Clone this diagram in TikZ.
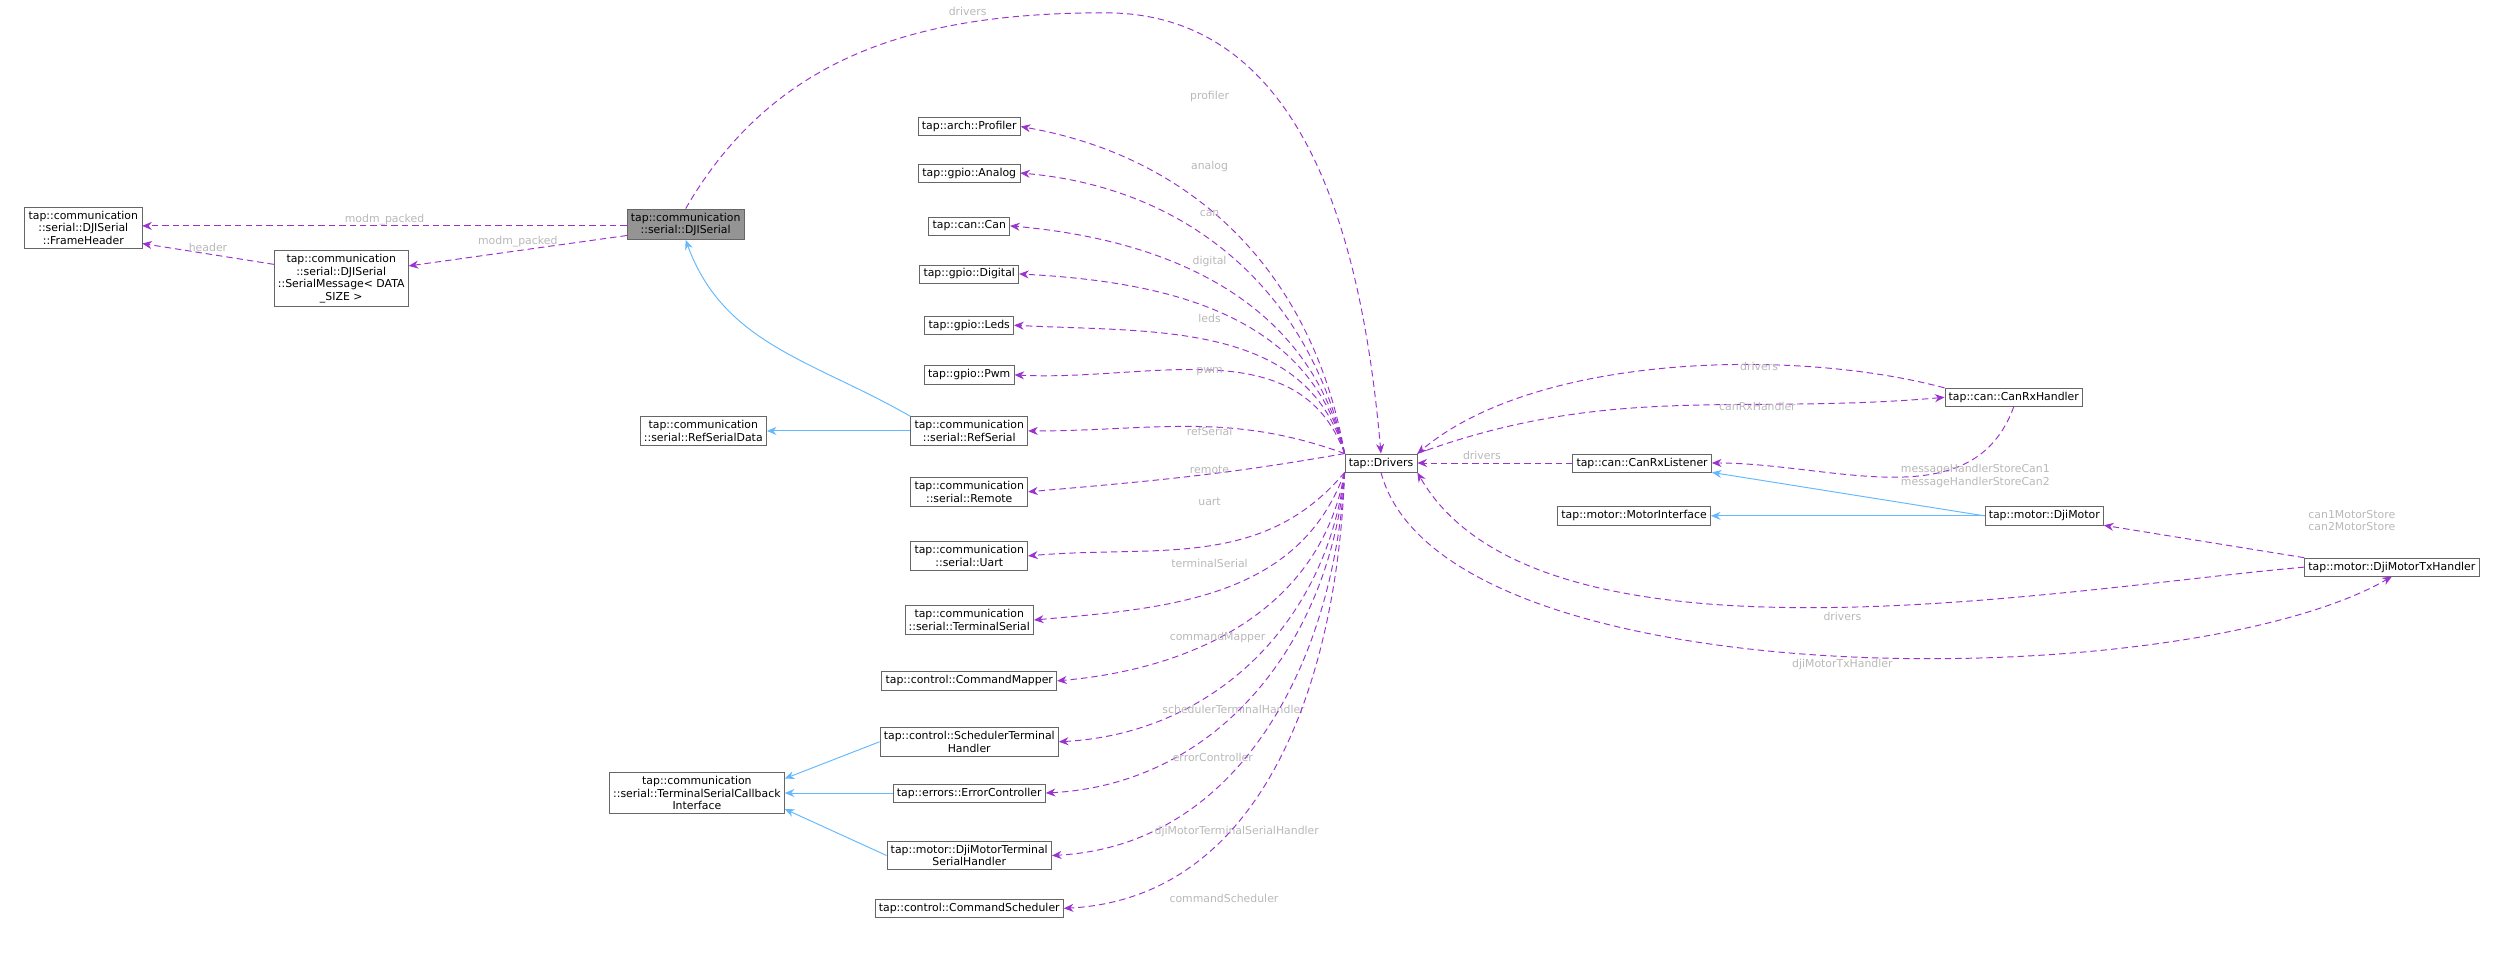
\documentclass[tikz,border=0pt]{standalone}
\usepackage{fontspec}
\setmainfont{DejaVu Sans}
\usetikzlibrary{arrows.meta}
\definecolor{dep}{HTML}{9A32CD}
\definecolor{inh}{HTML}{63B8FF}
\definecolor{lblgray}{HTML}{B8B8B8}
\tikzset{
  cls/.style={draw=black!60, fill=white, font=\fontsize{6.8}{7.8}\selectfont, align=center, inner sep=2.4pt},
  cur/.style={cls, fill=black!42},
  use/.style={dep, semithick, dash pattern=on 4pt off 2.5pt, -{Stealth[length=6pt,width=5pt]}},
  isa/.style={inh, semithick, -{Stealth[length=6pt,width=5pt]}},
  lbl/.style={text=lblgray, font=\fontsize{6.8}{7.8}\selectfont, align=center, inner sep=0pt}
}
\begin{document}
\begin{tikzpicture}[x=1pt,y=-1pt]
\useasboundingbox (0,0) rectangle (1568,597);

% left part
\node[cls] (hdr) at (52,142) {tap::communication\\::serial::DJISerial\\::FrameHeader};
\node[cur] (dji) at (428,140) {tap::communication\\::serial::DJISerial};
\node[cls] (msg) at (213,174) {tap::communication\\::serial::DJISerial\\::SerialMessage< DATA\\\_SIZE >};
\node[cls] (rsd) at (439,269) {tap::communication\\::serial::RefSerialData};
\node[cls] (tsci) at (435,495) {tap::communication\\::serial::TerminalSerialCallback\\Interface};

% members of the drivers
\node[cls] (prof) at (605,79) {tap::arch::Profiler};
\node[cls] (ana) at (605,108) {tap::gpio::Analog};
\node[cls] (can) at (605,141) {tap::can::Can};
\node[cls] (dig) at (605,171) {tap::gpio::Digital};
\node[cls] (leds) at (605,203) {tap::gpio::Leds};
\node[cls] (pwm) at (605,234) {tap::gpio::Pwm};
\node[cls] (ref) at (605,269) {tap::communication\\::serial::RefSerial};
\node[cls] (rem) at (605,307) {tap::communication\\::serial::Remote};
\node[cls] (uart) at (605,347) {tap::communication\\::serial::Uart};
\node[cls] (term) at (605,387) {tap::communication\\::serial::TerminalSerial};
\node[cls] (cmap) at (605,425) {tap::control::CommandMapper};
\node[cls] (sth) at (605,463) {tap::control::SchedulerTerminal\\Handler};
\node[cls] (err) at (605,495) {tap::errors::ErrorController};
\node[cls] (dmts) at (605,534) {tap::motor::DjiMotorTerminal\\SerialHandler};
\node[cls] (csch) at (605,567) {tap::control::CommandScheduler};

% right part
\node[cls] (drv) at (862,289) {tap::Drivers};
\node[cls] (crl) at (1025,289) {tap::can::CanRxListener};
\node[cls] (mint) at (1020,322) {tap::motor::MotorInterface};
\node[cls] (crh) at (1257,248) {tap::can::CanRxHandler};
\node[cls] (dmot) at (1276,322) {tap::motor::DjiMotor};
\node[cls] (dtx) at (1493,354) {tap::motor::DjiMotorTxHandler};

% inheritance
\draw[isa] (ref.west) -- (rsd.east);
\draw[isa] (ref.north west) to[out=150,in=-70] (dji.south);
\draw[isa] (sth.west) -- (tsci.east |- 0,486);
\draw[isa] (err.west) -- (tsci.east |- 0,495);
\draw[isa] (dmts.west) -- (tsci.east |- 0,505);
\draw[isa] (dmot.west) -- (crl.south east);
\draw[isa] (dmot.west) -- (mint.east);

% usage, left part
\draw[use] (dji.west |- 0,141) -- (hdr.east |- 0,141) node[lbl, pos=0.5, above] {modm\_packed};
\draw[use] (dji.west |- 0,147) -- (msg.east |- 0,166) node[lbl, pos=0.5, above=2pt] {modm\_packed};
\draw[use] (msg.west |- 0,165) -- (hdr.east |- 0,152) node[lbl, pos=0.5, above=1pt] {header};
\coordinate (top) at (690,8);
\draw[use] (dji.north) to[out=60,in=180] (top) to[out=0,in=95] (drv.north);
\node[lbl] (ltop) at (604,7) {drivers};

% usage, drivers to its members
\foreach \n/\lab/\lx/\ly/\o/\i in {prof/profiler/755/60/100/-10, ana/analog/755/104/102/-5,
    can/can/755/133/103/-5, dig/digital/755/163/104/-3, leds/leds/755/199/106/-3,
    pwm/pwm/755/232/110/-3, ref/refSerial/755/269/160/0, rem/remote/755/293/190/5}
  {\draw[use] (drv.north west) to[out=\o,in=\i] (\n.east);
   \node[lbl] (l\n) at (\lx,\ly) {\lab};}
\foreach \n/\lab/\lx/\ly/\o/\i in {uart/uart/755/313/-130/5, term/terminalSerial/755/352/-110/5,
    cmap/commandMapper/760/398/-100/5, sth/schedulerTerminalHandler/770/443/-97/3,
    err/errorController/757/473/-95/3, dmts/djiMotorTerminalSerialHandler/772/519/-93/3,
    csch/commandScheduler/764/561/-92/3}
  {\draw[use] (drv.south west) to[out=\o,in=\i] (\n.east);
   \node[lbl] (l\n) at (\lx,\ly) {\lab};}

% usage, right part
\draw[use] (crh.north west) to[out=165,in=40,looseness=0.75] (drv.north east);
\node[lbl] (lcrh1) at (1098,229) {drivers};
\draw[use] (drv.north east) to[out=20,in=185] (crh.west);
\node[lbl] (lcrh2) at (1097,254) {canRxHandler};
\draw[use] (crh.south) to[out=-110,in=0] (crl.east);
\node[lbl] (lcrh3) at (1233,297) {messageHandlerStoreCan1\\messageHandlerStoreCan2};
\draw[use] (crl.west) -- (drv.east);
\node[lbl] (lcrl) at (925,284) {drivers};
\draw[use] (dtx.north west) -- (dmot.south east);
\node[lbl] (ldtx1) at (1468,325) {can1MotorStore\\can2MotorStore};
\draw[use] (dtx.west) to[out=185,in=-60,looseness=0.7] (drv.south east);
\node[lbl] (ldtx2) at (1150,385) {drivers};
\draw[use] (drv.south) to[out=-75,in=-150,looseness=0.6] (dtx.south);
\node[lbl] (ldtx3) at (1150,415) {djiMotorTxHandler};
\end{tikzpicture}
\end{document}
